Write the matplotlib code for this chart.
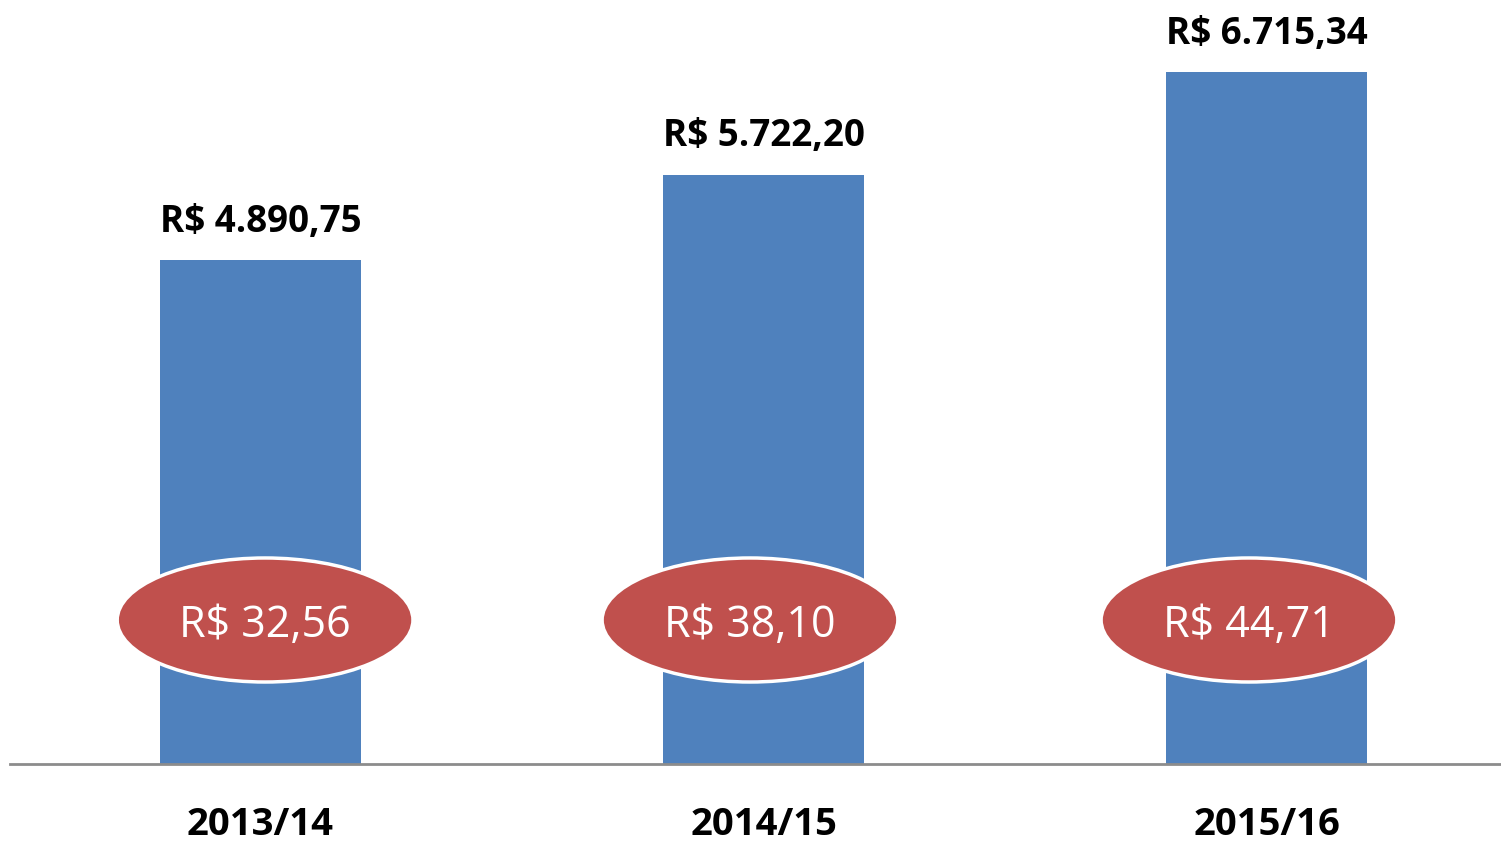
import matplotlib
matplotlib.use('Agg')
import matplotlib.pyplot as plt
from matplotlib.patches import Ellipse

# values
safras = ['2013/14', '2014/15', '2015/16']
total = [4890.75, 5722.20, 6715.34]
total_lbl = ['R$ 4.890,75', 'R$ 5.722,20', 'R$ 6.715,34']
unit_lbl = ['R$ 32,56', 'R$ 38,10', 'R$ 44,71']

bar_color = '#4F81BD'
oval_color = '#C0504D'
font = ['Open Sans', 'DejaVu Sans']

fig = plt.figure(figsize=(15.01, 8.43), dpi=100)
ax = fig.add_axes([0, 79/843, 1, 764/843])
ax.set_xlim(-0.518, 2.466)
ax.set_ylim(0, 7417)
ax.axis('off')

x = range(len(safras))
ax.bar(x, total, width=0.4, color=bar_color, zorder=2)
ax.axhline(0, xmin=10/1501, xmax=1500/1501, color='#8C8C8C', lw=2, clip_on=False, zorder=3)

# small shift of the ovals relative to the bars, as in the original
shift = [0.009, -0.027, -0.035]
for i in x:
    ax.annotate(total_lbl[i], (i, total[i]), xytext=(0, 14), textcoords='offset points',
                ha='center', va='bottom', fontsize=26.5, fontweight='bold', family=font)
    e = Ellipse((i + shift[i], 1398), 0.588, 1204, facecolor=oval_color,
                edgecolor='white', lw=2.5, zorder=4)
    ax.add_patch(e)
    ax.text(i + shift[i], 1340, unit_lbl[i], ha='center', va='center', color='white',
            fontsize=31, family=font, zorder=5)
    ax.text(i, -590, safras[i], ha='center', va='center', fontsize=27.5,
            fontweight='bold', family=font, clip_on=False)

fig.savefig('out.png', dpi=100)
